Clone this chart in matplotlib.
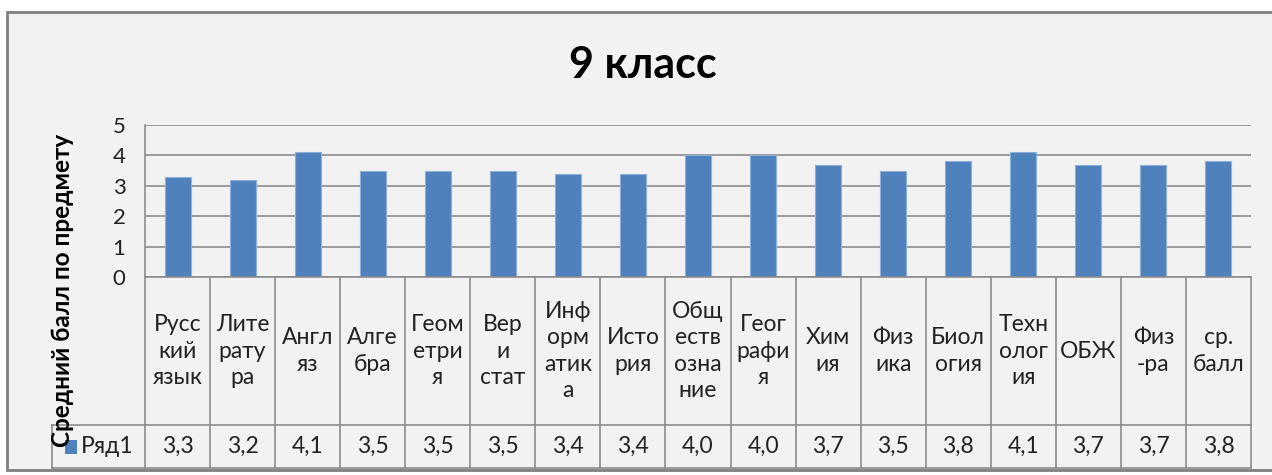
import matplotlib.pyplot as plt
from matplotlib.patches import Rectangle

plt.rcParams['font.family'] = ['Lato', 'DejaVu Sans']

# данные
predmety = ['Русс\nкий\nязык', 'Лите\nрату\nра', 'Англ\nяз', 'Алге\nбра', 'Геом\nетри\nя',
            'Вер\nи\nстат', 'Инф\nорм\nатик\nа', 'Исто\nрия', 'Общ\nеств\nозна\nние',
            'Геог\nрафи\nя', 'Хим\nия', 'Физ\nика', 'Биол\nогия', 'Техн\nолог\nия',
            'ОБЖ', 'Физ\n-ра', 'ср.\nбалл']
ball = [3.3, 3.2, 4.1, 3.5, 3.5, 3.5, 3.4, 3.4, 4.0, 4.0, 3.7, 3.5, 3.8, 4.1, 3.7, 3.7, 3.8]
ball_text = ['3,3', '3,2', '4,1', '3,5', '3,5', '3,5', '3,4', '3,4', '4,0', '4,0',
             '3,7', '3,5', '3,8', '4,1', '3,7', '3,7', '3,8']
ryad = 'Ряд1'

W, H = 1272, 475
fig = plt.figure(figsize=(W / 100, H / 100), dpi=100)
fig.patch.set_facecolor('white')

bg = '#f2f2f2'
line_c = '#8c8c8c'
fig.patches.append(Rectangle((7 / W, 1 - 470 / H), 1.0, (470 - 12) / H, transform=fig.transFigure,
                             facecolor=bg, edgecolor='#7f7f7f', linewidth=2, zorder=-5))

def fx(px):
    return px / W

def fy(py):
    return 1 - py / H

x0, x1 = 145, 1251
ytop, ybot = 125, 277
ax = fig.add_axes([fx(x0), fy(ybot), fx(x1 - x0), (ybot - ytop) / H])
ax.set_facecolor(bg)
n = len(ball)
xs = list(range(n))
ax.bar(xs, ball, width=0.4, color='#4f81bd', edgecolor='#8eb0dc', linewidth=0.8, zorder=3)
ax.set_xlim(-0.5, n - 0.5)
ax.set_ylim(0, 5)
ax.set_yticks([0, 1, 2, 3, 4, 5])
ax.set_xticks([])
ax.tick_params(axis='y', length=0, pad=14, labelsize=16, labelcolor='#222222')
ax.grid(axis='y', color=line_c, linewidth=1.2, zorder=0)
for s in ['top', 'right', 'bottom']:
    ax.spines[s].set_visible(False)
ax.spines['left'].set_color(line_c)
ax.spines['left'].set_linewidth(1.2)

# таблица данных
tab_top, tab_mid, tab_bot = 277, 425, 468
tb = fig.add_axes([fx(x0), fy(tab_bot), fx(x1 - x0), (tab_bot - tab_top) / H])
tb.set_xlim(-0.5, n - 0.5)
tb.set_ylim(tab_bot, tab_top)
tb.axis('off')
leg_x = -0.5 - (x0 - 52) / ((x1 - x0) / n)
kw = dict(color=line_c, linewidth=1.2, clip_on=False)
tb.plot([-0.5, n - 0.5], [tab_top, tab_top], **kw)
tb.plot([leg_x, n - 0.5], [tab_mid, tab_mid], **kw)
tb.plot([leg_x, n - 0.5], [tab_bot, tab_bot], **kw)
tb.plot([leg_x, leg_x], [tab_mid, tab_bot], **kw)
for i in range(n + 1):
    tb.plot([i - 0.5, i - 0.5], [tab_top, tab_bot], **kw)
for i in range(n):
    tb.text(i, (tab_top + tab_mid) / 2, predmety[i], ha='center', va='center',
            fontsize=16.5, linespacing=1.3, color='#222222')
    tb.text(i, (tab_mid + tab_bot) / 2, ball_text[i], ha='center', va='center',
            fontsize=16.5, color='#222222')
tb.add_patch(Rectangle((leg_x + 0.2, 440), 0.18, 14, facecolor='#4f81bd', clip_on=False))
tb.text(leg_x + 0.45, (tab_mid + tab_bot) / 2, ryad, ha='left', va='center',
        fontsize=16.5, color='#222222', clip_on=False)

fig.text(fx(643), fy(65), '9 класс', ha='center', va='center', fontsize=31,
         fontweight='bold', color='black')
fig.text(fx(62), fy(290), 'Средний балл по предмету', rotation=90, ha='center', va='center',
         fontsize=17.5, fontweight='bold', color='black')

fig.savefig('out.png', dpi=100, facecolor='white')
